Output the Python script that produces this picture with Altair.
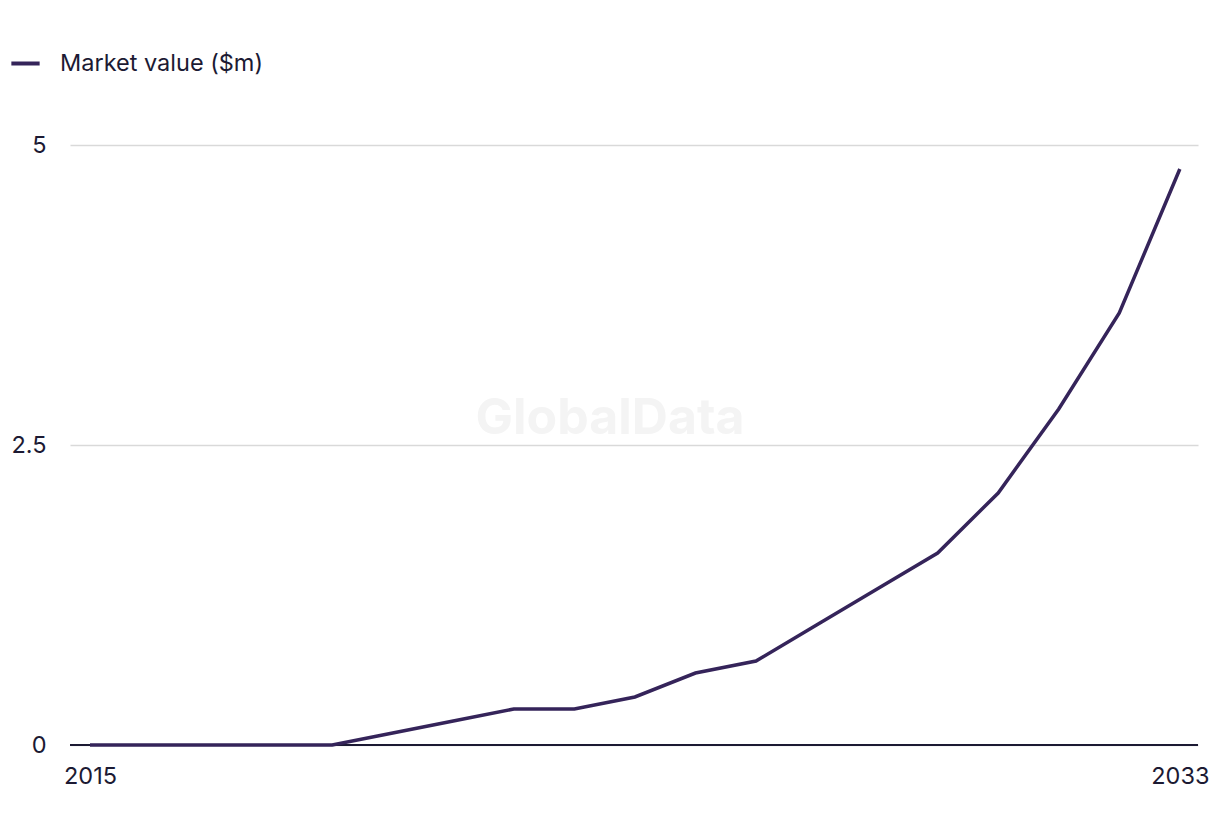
import altair as alt
import pandas as pd

years = list(range(2015, 2034))
values = [0, 0, 0, 0, 0, 0.1, 0.2, 0.3, 0.3, 0.4, 0.6, 0.7, 1.0, 1.3, 1.6, 2.1, 2.8, 3.6, 4.8]
series_name = "Market value ($m)"

df = pd.DataFrame({"year": years, "value": values, "series": [series_name] * len(years)})

FONT = "Inter"
TXT = "#1c1a33"
LINE = "#35245a"
FS = 23.5

x_enc = alt.X("year:Q", scale=alt.Scale(domain=[2014.67, 2033.3], nice=False, zero=False),
              axis=alt.Axis(values=[2015, 2033], format="d", title=None, grid=False, domain=False,
                            ticks=False, labelPadding=19, labelFontSize=FS, labelFont=FONT,
                            labelColor=TXT))

watermark = alt.Chart(pd.DataFrame({"t": ["GlobalData"]})).mark_text(
    font=FONT, fontSize=50, fontWeight="bold", color="#f4f4f4"
).encode(x=alt.value(540), y=alt.value(274), text="t:N")

grid = alt.Chart(df).mark_line(opacity=0).encode(
    x=x_enc,
    y=alt.Y("value:Q", scale=alt.Scale(domain=[0, 5], nice=False),
            axis=alt.Axis(values=[0, 2.5, 5], title=None, domain=False, ticks=False,
                          labelExpr="datum.value == 2.5 ? '2.5' : format(datum.value, 'd')",
                          labelPadding=24, labelFontSize=FS, labelFont=FONT, labelColor=TXT,
                          gridColor="#d9d9d9", gridWidth=1.5)),
)

zero = alt.Chart(pd.DataFrame({"z": [0]})).mark_rule(color="#1c1a33", strokeWidth=2).encode(
    y="z:Q", x=alt.value(0), x2=alt.value(1128))

line = alt.Chart(df).mark_line(strokeWidth=3.5).encode(
    x=x_enc,
    y=alt.Y("value:Q"),
    color=alt.Color("series:N", scale=alt.Scale(range=[LINE]),
                    legend=alt.Legend(title=None, orient="none", legendX=-61, legendY=-98,
                                      symbolType="stroke", symbolStrokeWidth=4, symbolSize=800,
                                      labelFontSize=FS, labelFont=FONT, labelColor=TXT,
                                      labelOffset=18, labelLimit=500)),
)

chart = alt.layer(watermark, grid, zero, line).properties(
    width=1128, height=600,
    autosize=alt.AutoSizeParams(type="none"),
    padding={"left": 70, "top": 145, "right": 22, "bottom": 91},
).configure_view(stroke=None)

chart.save("out.html", embed_options={"renderer": "svg", "actions": False})
